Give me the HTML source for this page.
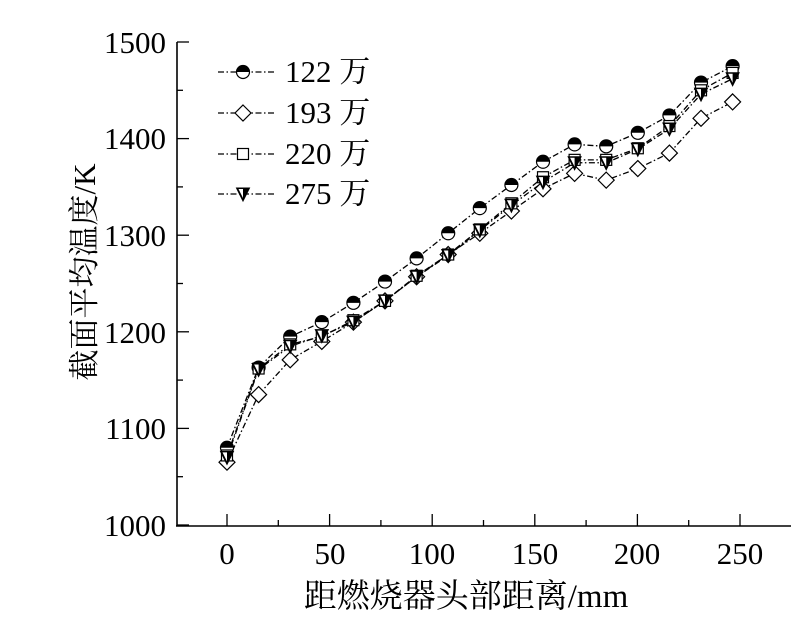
<!DOCTYPE html>
<html><head><meta charset="utf-8"><style>
html,body{margin:0;padding:0;background:#fff;}
svg text{font-family:"Liberation Serif","Noto Serif CJK SC",serif;fill:#000;}
</style></head><body>
<svg width="804" height="616" viewBox="0 0 804 616" xmlns="http://www.w3.org/2000/svg">
<g stroke="#000" stroke-width="1.6" fill="none">
<line x1="177" y1="42" x2="177" y2="526"/>
<line x1="176" y1="526" x2="791" y2="526"/>
</g>
<g stroke="#000" stroke-width="1.3" id="ticks"></g>
<g font-size="31" text-anchor="end">
<text x="166" y="536">1000</text><text x="166" y="439">1100</text><text x="166" y="343">1200</text><text x="166" y="246">1300</text><text x="166" y="149">1400</text><text x="166" y="53">1500</text>
</g>
<g font-size="31" text-anchor="middle">
<text x="227" y="564">0</text><text x="330" y="564">50</text><text x="432" y="564">100</text><text x="535" y="564">150</text><text x="637" y="564">200</text><text x="740" y="564">250</text>
</g>
<text x="466" y="607" font-size="33" text-anchor="middle">距燃烧器头部距离/mm</text>
<text transform="translate(95,272) rotate(-90)" font-size="31" text-anchor="middle">截面平均温度/K</text>
<g id="plot"></g>
<g font-size="31">
<text x="285" y="82">122 万</text><text x="285" y="123">193 万</text><text x="285" y="164">220 万</text><text x="285" y="204">275 万</text>
</g>
<script>
var ns="http://www.w3.org/2000/svg";
function el(t,a,p){var e=document.createElementNS(ns,t);for(var k in a)e.setAttribute(k,a[k]);p.appendChild(e);return e;}
var tk=document.getElementById("ticks");
for(var v=0;v<=250;v+=25){var x=227+v*2.052;el("line",{x1:x,y1:526,x2:x,y2:v%50?520:514},tk);}
for(var v=1000;v<=1500;v+=50){var y=525-(v-1000)*0.966;el("line",{x1:177,y1:y,x2:(v%100?183:189),y2:y},tk);}
var xs=[0,15.4,30.8,46.2,61.6,77,92.4,107.8,123.2,138.6,154,169.4,184.8,200.2,215.6,231,246.4];
var D=[
[1080,1163,1195,1210,1230,1252,1276,1302,1328,1352,1376,1394,1392,1406,1424,1458,1475],
[1065,1135,1171,1190,1210,1232,1257,1280,1302,1325,1348,1364,1357,1369,1385,1421,1438],
[1072,1162,1187,1195,1212,1232,1258,1280,1306,1333,1360,1378,1378,1390,1413,1450,1468],
[1070,1161,1185,1196,1210,1232,1257,1279,1305,1331,1355,1375,1375,1389,1410,1446,1462]];
var P=document.getElementById("plot");
function marker(k,x,y,g){
 if(k==0){el("circle",{cx:x,cy:y,r:6.5,fill:"#fff",stroke:"#000","stroke-width":1.2},g);el("path",{d:"M"+(x-6.5)+","+y+" A6.5,6.5 0 0 1 "+(x+6.5)+","+y+" Z",fill:"#000"},g);}
 else if(k==1){el("path",{d:"M"+x+","+(y-8)+" L"+(x+8)+","+y+" L"+x+","+(y+8)+" L"+(x-8)+","+y+" Z",fill:"#fff",stroke:"#000","stroke-width":1.2},g);}
 else if(k==2){el("rect",{x:x-5.5,y:y-5.5,width:11,height:11,fill:"#fff",stroke:"#000","stroke-width":1.2},g);}
 else {el("path",{d:"M"+(x-6.5)+","+(y-6)+" L"+(x+6.5)+","+(y-6)+" L"+x+","+(y+7)+" Z",fill:"#000",stroke:"#000","stroke-width":1},g);el("path",{d:"M"+(x-4.5)+","+(y-5)+" L"+x+","+(y-5)+" L"+x+","+(y+4)+" Z",fill:"#fff"},g);}
}
for(var k=0;k<4;k++){
 var pts=D[k].map(function(v,i){return [227+xs[i]*2.052,525-(v-1000)*0.966];});
 el("polyline",{points:pts.map(function(p){return p.join(",")}).join(" "),fill:"none",stroke:"#000","stroke-width":1.3,"stroke-dasharray":"6,2.5,1.5,2.5"},P);
}
for(var k=0;k<4;k++){
 D[k].forEach(function(v,i){marker(k,227+xs[i]*2.052,525-(v-1000)*0.966,P);});
 var ly=[72,113,154,194][k];
 el("line",{x1:218,y1:ly,x2:274,y2:ly,stroke:"#000","stroke-width":1.3,"stroke-dasharray":"6,2.5,1.5,2.5"},P);
 marker(k,243,ly,P);
}
</script>
</svg>
</body></html>
